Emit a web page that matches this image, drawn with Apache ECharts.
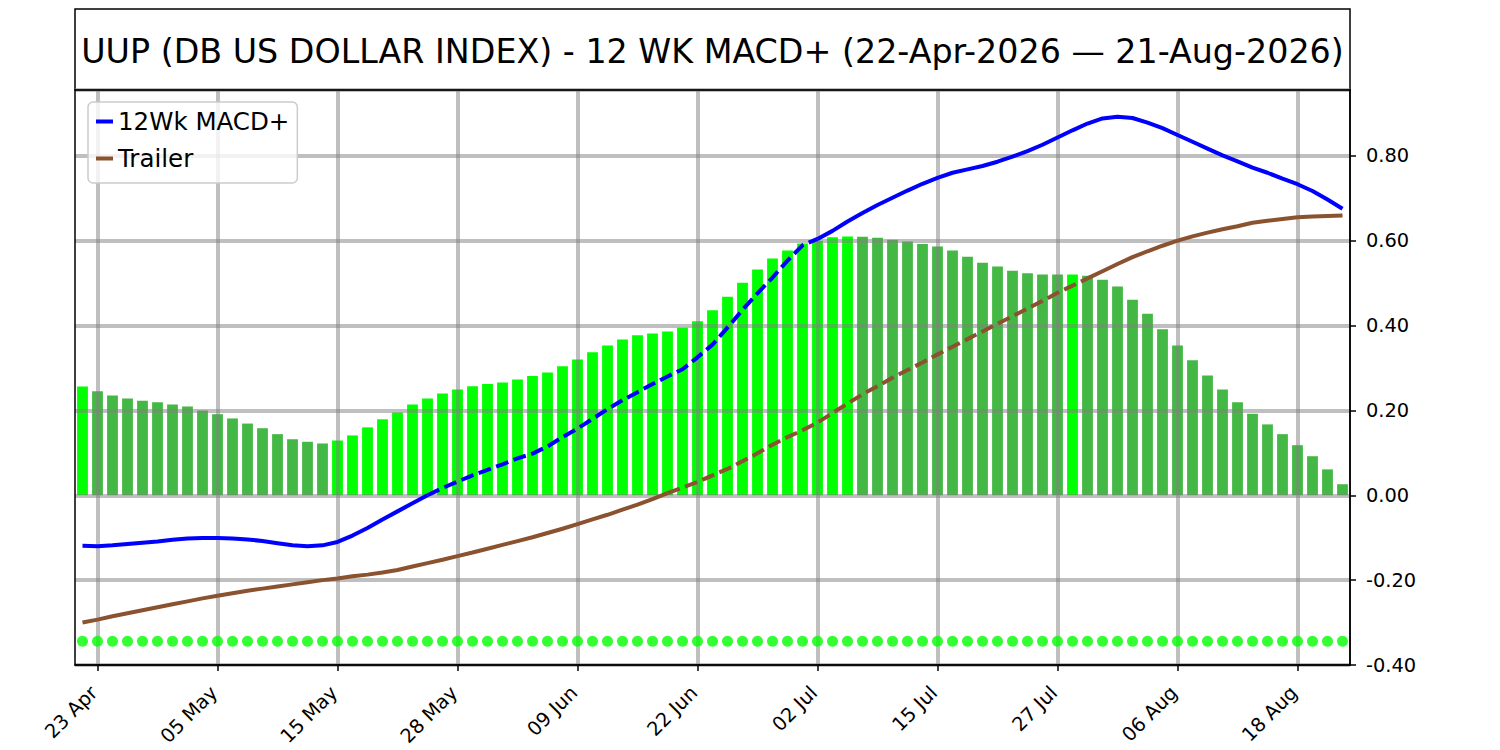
<!DOCTYPE html>
<html>
<head>
<meta charset="utf-8">
<script src="https://cdn.jsdelivr.net/npm/echarts@6/dist/echarts.min.js"></script>
<style>
  html, body { margin: 0; padding: 0; background: #ffffff; }
  #chart { width: 1500px; height: 750px; }
</style>
</head>
<body>
<div id="chart"></div>
<script>
// ---------------- DATA ----------------
const titleText = 'UUP (DB US DOLLAR INDEX) - 12 WK MACD+ (22-Apr-2026 \u2014 21-Aug-2026)';

const dates = [
  '22 Apr','23 Apr','24 Apr','27 Apr','28 Apr','29 Apr','30 Apr',
  '01 May','04 May','05 May','06 May','07 May','08 May','11 May','12 May','13 May','14 May','15 May',
  '18 May','19 May','20 May','21 May','22 May','26 May','27 May','28 May','29 May',
  '01 Jun','02 Jun','03 Jun','04 Jun','05 Jun','08 Jun','09 Jun','10 Jun','11 Jun','12 Jun',
  '15 Jun','16 Jun','17 Jun','18 Jun','22 Jun','23 Jun','24 Jun','25 Jun','26 Jun','29 Jun','30 Jun',
  '01 Jul','02 Jul','06 Jul','07 Jul','08 Jul','09 Jul','10 Jul','13 Jul','14 Jul','15 Jul','16 Jul','17 Jul',
  '20 Jul','21 Jul','22 Jul','23 Jul','24 Jul','27 Jul','28 Jul','29 Jul','30 Jul','31 Jul',
  '03 Aug','04 Aug','05 Aug','06 Aug','07 Aug','10 Aug','11 Aug','12 Aug','13 Aug','14 Aug',
  '17 Aug','18 Aug','19 Aug','20 Aug','21 Aug'
];

const tickLabels = ['23 Apr','05 May','15 May','28 May','09 Jun','22 Jun','02 Jul','15 Jul','27 Jul','06 Aug','18 Aug'];

const histogram = [
  0.256,0.245,0.235,0.228,0.223,0.219,0.214,0.209,0.200,0.191,
  0.181,0.169,0.158,0.144,0.132,0.126,0.122,0.129,0.141,0.160,
  0.179,0.195,0.214,0.228,0.240,0.249,0.257,0.262,0.266,0.273,
  0.281,0.289,0.304,0.320,0.337,0.353,0.367,0.377,0.381,0.386,
  0.395,0.410,0.436,0.468,0.501,0.532,0.558,0.577,0.593,0.600,
  0.608,0.6095,0.609,0.607,0.602,0.598,0.592,0.586,0.577,0.562,
  0.548,0.539,0.529,0.523,0.5205,0.520,0.5205,0.517,0.508,0.492,
  0.461,0.428,0.391,0.353,0.318,0.282,0.249,0.219,0.192,0.167,
  0.144,0.118,0.092,0.061,0.026
];

const macdPlus = [
  -0.119,-0.120,-0.118,-0.115,-0.112,-0.109,-0.105,-0.102,-0.101,-0.101,
  -0.102,-0.104,-0.108,-0.113,-0.118,-0.120,-0.118,-0.110,-0.095,-0.077,
  -0.057,-0.038,-0.019,0.000,0.017,0.032,0.047,0.060,0.073,0.087,
  0.098,0.115,0.137,0.157,0.180,0.203,0.224,0.243,0.262,0.280,
  0.297,0.325,0.355,0.395,0.437,0.476,0.513,0.553,0.589,0.604,
  0.623,0.645,0.665,0.684,0.701,0.718,0.734,0.748,0.760,0.768,
  0.776,0.786,0.798,0.811,0.826,0.843,0.860,0.876,0.888,0.892,
  0.889,0.878,0.865,0.849,0.833,0.817,0.801,0.787,0.772,0.760,
  0.746,0.733,0.717,0.697,0.675
];

const trailer = [
  -0.300,-0.293,-0.285,-0.278,-0.271,-0.264,-0.257,-0.250,-0.243,-0.237,
  -0.231,-0.225,-0.220,-0.215,-0.210,-0.205,-0.200,-0.196,-0.191,-0.187,
  -0.182,-0.176,-0.168,-0.160,-0.152,-0.1435,-0.135,-0.126,-0.117,-0.108,
  -0.099,-0.089,-0.079,-0.068,-0.057,-0.046,-0.034,-0.022,-0.009,0.005,
  0.018,0.031,0.047,0.062,0.080,0.099,0.119,0.137,0.153,0.171,
  0.194,0.216,0.238,0.257,0.277,0.295,0.313,0.332,0.350,0.368,
  0.386,0.404,0.422,0.440,0.458,0.477,0.494,0.511,0.528,0.545,
  0.561,0.575,0.588,0.600,0.610,0.619,0.627,0.634,0.642,0.647,
  0.651,0.655,0.657,0.658,0.659
];

const signalDots = [
  -0.344,-0.344,-0.344,-0.344,-0.344,-0.344,-0.344,-0.344,-0.344,-0.344,
  -0.344,-0.344,-0.344,-0.344,-0.344,-0.344,-0.344,-0.344,-0.344,-0.344,
  -0.344,-0.344,-0.344,-0.344,-0.344,-0.344,-0.344,-0.344,-0.344,-0.344,
  -0.344,-0.344,-0.344,-0.344,-0.344,-0.344,-0.344,-0.344,-0.344,-0.344,
  -0.344,-0.344,-0.344,-0.344,-0.344,-0.344,-0.344,-0.344,-0.344,-0.344,
  -0.344,-0.344,-0.344,-0.344,-0.344,-0.344,-0.344,-0.344,-0.344,-0.344,
  -0.344,-0.344,-0.344,-0.344,-0.344,-0.344,-0.344,-0.344,-0.344,-0.344,
  -0.344,-0.344,-0.344,-0.344,-0.344,-0.344,-0.344,-0.344,-0.344,-0.344,
  -0.344,-0.344,-0.344,-0.344,-0.344
];

const yTickValues = [-0.4, -0.2, 0.0, 0.2, 0.4, 0.6, 0.8];

// ---------------- STYLE ----------------
const FONT = 'DejaVu Sans';
const macdDashRange = [23, 49];
const trailerDashRange = [39, 67];
const GRID_COLOR = 'rgba(128,128,128,0.5)';
const BRIGHT = '#00ff00';
const DULL = '#44b844';
const BLUE = '#0000ff';
const BROWN = '#8b5230';
const DASH = [13, 5.6];

function splitSeries(values, range) {
  const solid = values.map((v, i) => (i <= range[0] || i >= range[1]) ? v : null);
  const dashed = values.map((v, i) => (i >= range[0] && i <= range[1]) ? v : null);
  return [solid, dashed];
}
const [macdSolid, macdDash] = splitSeries(macdPlus, macdDashRange);
const [trailSolid, trailDash] = splitSeries(trailer, trailerDashRange);

const barData = histogram.map((v, i) => ({
  value: v,
  itemStyle: { color: (i === 0 || v >= histogram[i - 1]) ? BRIGHT : DULL }
}));

const showTick = (idx, val) => tickLabels.indexOf(val) >= 0;

const chart = echarts.init(document.getElementById('chart'), null, { renderer: 'svg' });

const lineBase = (name, data, color, dashed) => ({
  name: name,
  type: 'line',
  data: data,
  showSymbol: false,
  symbol: 'none',
  connectNulls: false,
  smooth: false,
  z: 6,
  lineStyle: { color: color, width: 4, type: dashed ? DASH : 'solid', cap: 'butt' },
  itemStyle: { color: color },
  emphasis: { disabled: true },
  animation: false
});

chart.setOption({
  animation: false,
  textStyle: { fontFamily: FONT },
  title: {
    text: titleText,
    left: 712.5,
    top: 51,
    padding: 0,
    textAlign: 'center',
    textVerticalAlign: 'middle',
    textStyle: { fontFamily: FONT, fontSize: 33.3, fontWeight: 'normal', color: '#000' },
    z: 8
  },
  graphic: [{
    type: 'rect',
    shape: { x: 75, y: 9, width: 1275, height: 81 },
    style: { fill: '#ffffff', stroke: '#000000', lineWidth: 1.5 },
    z: 0,
    silent: true
  }],
  legend: {
    data: ['12Wk MACD+', 'Trailer'],
    orient: 'vertical',
    left: 88,
    top: 102,
    icon: 'rect',
    itemWidth: 17,
    itemHeight: 4,
    itemGap: 12,
    padding: [7, 8, 12, 8],
    backgroundColor: 'rgba(255,255,255,0.8)',
    borderColor: '#cccccc',
    borderWidth: 1.5,
    borderRadius: 5,
    textStyle: { fontFamily: FONT, fontSize: 24.5, color: '#000' },
    selectedMode: false,
    z: 20
  },
  grid: {
    left: 75, right: 150, top: 90, bottom: 85,
    show: true,
    borderColor: '#000000',
    borderWidth: 1.5,
    backgroundColor: 'rgba(0,0,0,0)',
    z: 3
  },
  xAxis: {
    type: 'category',
    data: dates,
    boundaryGap: true,
    z: 2,
    axisLine: { show: true, onZero: false, lineStyle: { color: '#000', width: 1.5 } },
    axisTick: { show: true, interval: showTick, alignWithLabel: true, length: 6, lineStyle: { color: '#000', width: 1.5 } },
    axisLabel: {
      interval: showTick,
      rotate: 45,
      margin: 21,
      padding: [0, 5, 0, 0],
      fontFamily: FONT,
      fontSize: 19.4,
      color: '#000'
    },
    splitLine: { show: false }
  },
  yAxis: {
    type: 'value',
    position: 'right',
    min: -0.4,
    max: 0.955,
    interval: 0.2,
    z: 2,
    axisLine: { show: true, lineStyle: { color: '#000', width: 1.5 } },
    axisTick: { show: true, length: 6, lineStyle: { color: '#000', width: 1.5 } },
    axisLabel: {
      showMaxLabel: false,
      margin: 16,
      fontFamily: FONT,
      fontSize: 19.4,
      color: '#000',
      formatter: function (v) {
        for (const t of yTickValues) { if (Math.abs(v - t) < 1e-6) return t.toFixed(2); }
        return '';
      }
    },
    splitLine: { show: true, lineStyle: { color: GRID_COLOR, width: 4 } }
  },
  series: [
    {
      name: 'Histogram',
      type: 'bar',
      data: barData,
      barWidth: '72%',
      z: 1,
      emphasis: { disabled: true },
      markLine: {
        silent: true,
        symbol: ['none', 'none'],
        label: { show: false },
        animation: false,
        z: 2,
        lineStyle: { color: GRID_COLOR, width: 4, type: 'solid' },
        emphasis: { disabled: true },
        data: tickLabels.map(t => ({ xAxis: t }))
      }
    },
    lineBase('12Wk MACD+', macdSolid, BLUE, false),
    lineBase('12Wk MACD+', macdDash, BLUE, true),
    lineBase('Trailer', trailSolid, BROWN, false),
    lineBase('Trailer', trailDash, BROWN, true),
    {
      name: 'Signal',
      type: 'scatter',
      data: signalDots,
      symbol: 'circle',
      symbolSize: 11,
      itemStyle: { color: BRIGHT },
      z: 6,
      emphasis: { disabled: true }
    }
  ]
});
</script>
</body>
</html>
